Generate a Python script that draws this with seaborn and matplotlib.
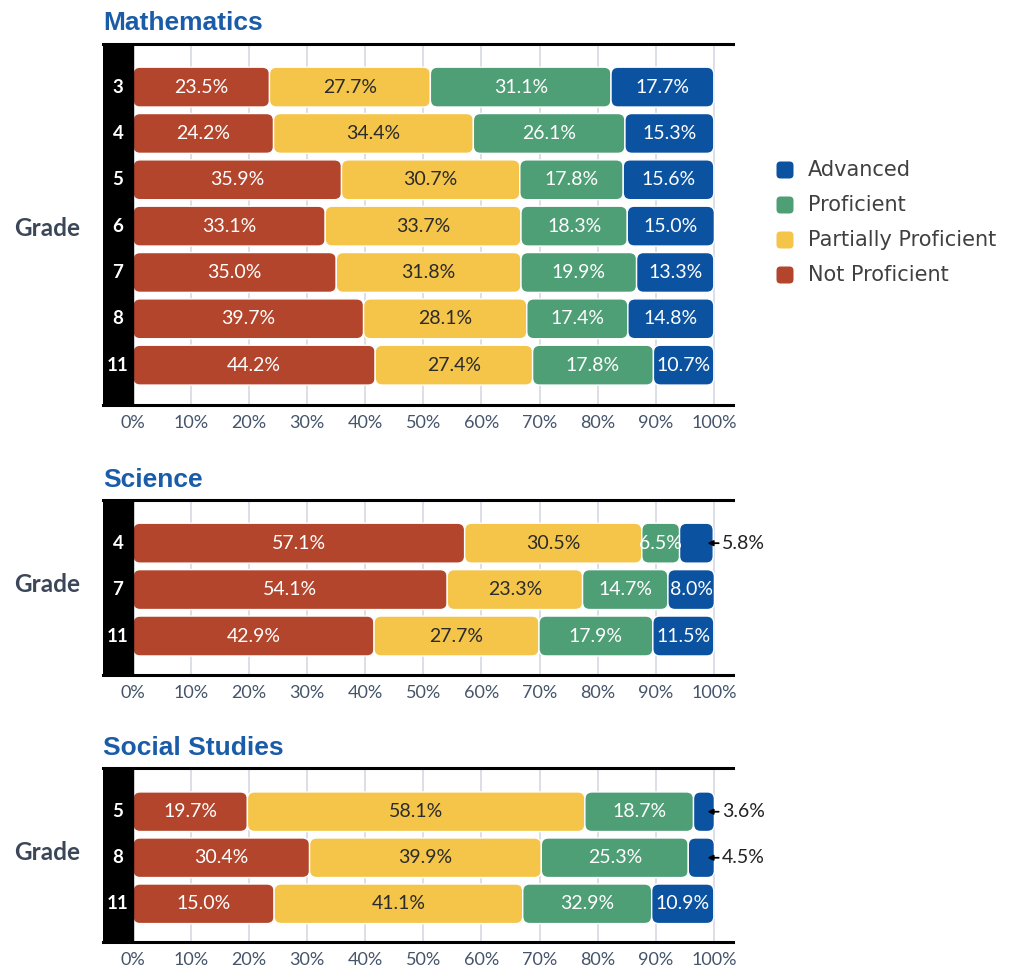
import numpy as np
import pandas as pd
import matplotlib
matplotlib.use("Agg")
import matplotlib.pyplot as plt
import seaborn as sns
from matplotlib.patches import FancyBboxPatch

sns.set_theme(style="white")
plt.rcParams['font.family'] = ['Lato', 'DejaVu Sans']

# ---------------- data ----------------
levels = ["Not Proficient", "Partially Proficient", "Proficient", "Advanced"]
palette = {"Not Proficient": "#B3452C", "Partially Proficient": "#F5C54A",
           "Proficient": "#4E9E76", "Advanced": "#0B53A0"}

math_grades = ["3", "4", "5", "6", "7", "8", "11"]
math_not = [23.5, 24.2, 35.9, 33.1, 35.0, 39.7, 44.2]
math_partial = [27.7, 34.4, 30.7, 33.7, 31.8, 28.1, 27.4]
math_prof = [31.1, 26.1, 17.8, 18.3, 19.9, 17.4, 17.8]
math_adv = [17.7, 15.3, 15.6, 15.0, 13.3, 14.8, 10.7]

sci_grades = ["4", "7", "11"]
sci_not = [57.1, 54.1, 42.9]
sci_partial = [30.5, 23.3, 27.7]
sci_prof = [6.5, 14.7, 17.9]
sci_adv = [5.8, 8.0, 11.5]

soc_grades = ["5", "8", "11"]
soc_not = [19.7, 30.4, 15.0]
soc_partial = [58.1, 39.9, 41.1]
soc_prof = [18.7, 25.3, 32.9]
soc_adv = [3.6, 4.5, 10.9]

# drawn segment lengths where the original bars differ from their labels
bar_length_overrides = {
    ("Mathematics", "11"): [41.7, 27.1, 20.8, 10.4],
    ("Science", "11"): [41.5, 28.4, 19.6, 10.5],
    ("Social Studies", "11"): [24.3, 42.8, 22.2, 10.7],
}

# ---------------- layout ----------------
W, H = 1010, 968
fig = plt.figure(figsize=(W / 100, H / 100), dpi=100)
XMIN, XMAX = -5.16, 103.3


def frect(left, top, right, bottom):
    return [left / W, 1 - bottom / H, (right - left) / W, (bottom - top) / H]


panels = [
    dict(title="Mathematics", grades=math_grades,
         series=[math_not, math_partial, math_prof, math_adv],
         rect=frect(103, 44, 733, 405), pad=(0.93, 0.86), title_y=30, grade_y=229),
    dict(title="Science", grades=sci_grades,
         series=[sci_not, sci_partial, sci_prof, sci_adv],
         rect=frect(103, 500, 733, 675), pad=(0.93, 0.84), title_y=487, grade_y=585),
    dict(title="Social Studies", grades=soc_grades,
         series=[soc_not, soc_partial, soc_prof, soc_adv],
         rect=frect(103, 768, 733, 942), pad=(0.95, 0.83), title_y=755, grade_y=853),
]

for p in panels:
    grades = p["grades"]
    n = len(grades)
    rows = []
    for j, g in enumerate(grades):
        vals = [p["series"][k][j] for k in range(4)]
        lens = bar_length_overrides.get((p["title"], g), vals)
        cum = np.cumsum(lens)
        for k, lvl in enumerate(levels):
            rows.append(dict(grade=g, level=lvl, value=vals[k], length=lens[k], end=cum[k]))
    df = pd.DataFrame(rows)

    ax = fig.add_axes(p["rect"])
    sns.barplot(data=df, x="end", y="grade", hue="level", order=grades,
                hue_order=levels, palette=palette, orient="h", dodge=False,
                width=0.86, errorbar=None, legend=False, ax=ax)
    ax.set_xlim(XMIN, XMAX)
    ax.set_ylim(n - 1 + p["pad"][1], -p["pad"][0])

    t0 = ax.transData.transform((0, 0))
    px_x = ax.transData.transform((1, 0))[0] - t0[0]
    px_y = abs(ax.transData.transform((0, 1))[1] - t0[1])
    asp = px_x / px_y
    r = 7.0 / px_x

    for k, cont in enumerate(ax.containers):
        lvl = levels[k]
        for bar in list(cont):
            yc = bar.get_y() + bar.get_height() / 2
            j = int(round(yc))
            h = bar.get_height()
            end = bar.get_x() + bar.get_width()
            row = df[(df.grade == grades[j]) & (df.level == lvl)].iloc[0]
            left = end - row.length
            patch = FancyBboxPatch((left, yc - h / 2), row.length, h,
                                   boxstyle=f"round,pad=0,rounding_size={r}",
                                   mutation_aspect=asp, facecolor=palette[lvl],
                                   edgecolor="white", linewidth=1.0, zorder=2)
            ax.add_patch(patch)
            bar.remove()
            label = f"{row.value:.1f}%"
            if row.value < 6:
                ax.annotate(label, xy=(98.9, yc), xytext=(101.4, yc),
                            ha="left", va="center", fontsize=14, color="#222222",
                            arrowprops=dict(arrowstyle="-|>,head_length=0.22,head_width=0.11",
                                            color="black", lw=1.3, shrinkA=0, shrinkB=0),
                            zorder=5)
            else:
                ax.text(left + row.length / 2, yc, label, ha="center", va="center",
                        fontsize=14,
                        color="#2B2B2B" if lvl == "Partially Proficient" else "white",
                        zorder=4)

    # black band with grade labels
    ax.axvspan(XMIN, 0, color="black", zorder=3)
    for j, g in enumerate(grades):
        ax.text(XMIN / 2, j, g, ha="center", va="center", color="white",
                fontsize=13.5, fontweight="bold", zorder=4)

    ax.set_xticks(range(0, 101, 10))
    ax.set_xticklabels([f"{t}%" for t in range(0, 101, 10)])
    ax.set_yticks([])
    ax.set_xlabel("")
    ax.set_ylabel("")
    ax.xaxis.grid(True, color="#D6D9E3", lw=1.2)
    ax.set_axisbelow(True)
    ax.tick_params(axis="x", length=0, pad=7, labelsize=13, colors="#44546A")
    for s in ["left", "right"]:
        ax.spines[s].set_visible(False)
    for s in ["top", "bottom"]:
        ax.spines[s].set_visible(True)
        ax.spines[s].set_color("black")
        ax.spines[s].set_linewidth(2.2)

    fig.text(103 / W, 1 - p["title_y"] / H, p["title"], ha="left", va="baseline",
             fontsize=19, fontweight="bold", color="#1A5CA8",
             family=["Liberation Sans", "DejaVu Sans"])
    fig.text(47 / W, 1 - p["grade_y"] / H, "Grade", ha="center", va="center",
             fontsize=17.5, fontweight="bold", color="#3B4658")

# legend
for i, lvl in enumerate(reversed(levels)):
    yc = 170 + 35 * i
    sq = 17
    box = FancyBboxPatch(((785 - sq / 2) / W, 1 - (yc + sq / 2) / H), sq / W, sq / H,
                         boxstyle=f"round,pad=0,rounding_size={4 / W}",
                         mutation_aspect=W / H, transform=fig.transFigure,
                         facecolor=palette[lvl], edgecolor="none")
    fig.add_artist(box)
    fig.text(808 / W, 1 - yc / H, lvl, ha="left", va="center", fontsize=15,
             color="#404040", family=["DejaVu Sans"])

fig.savefig("out.png", dpi=100)
